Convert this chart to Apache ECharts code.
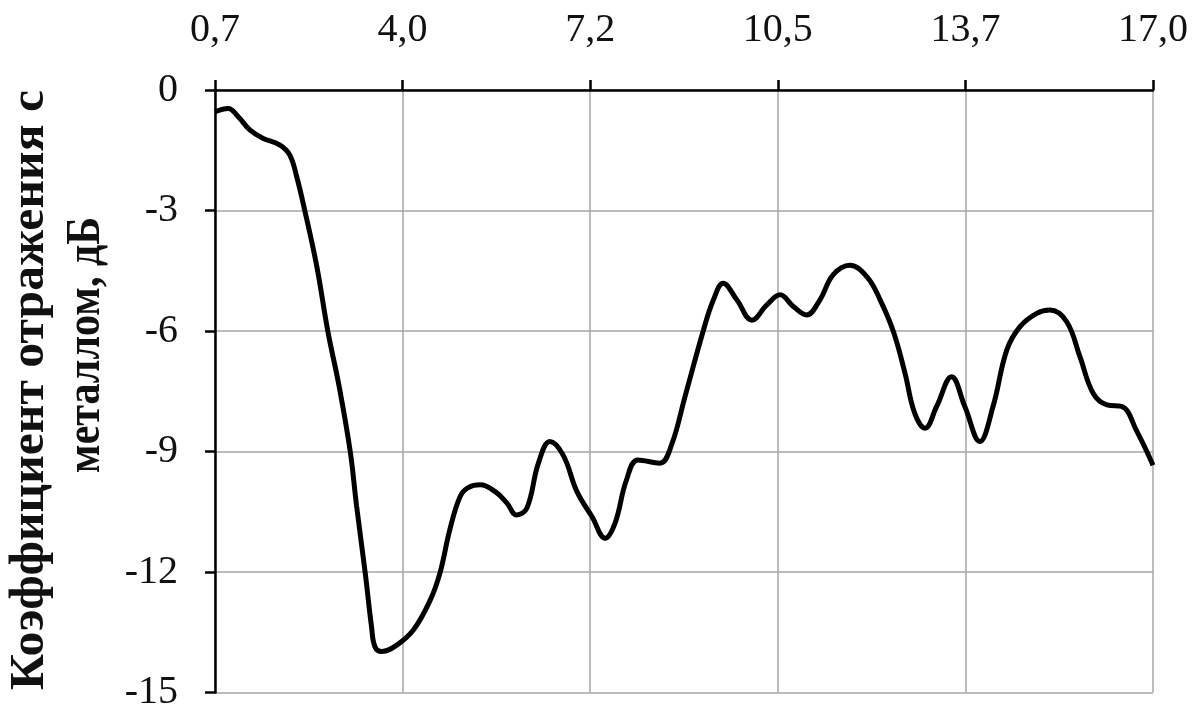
<!DOCTYPE html>
<html>
<head>
<meta charset="utf-8">
<script src="https://cdn.jsdelivr.net/npm/echarts@6/dist/echarts.min.js"></script>
<style>
  html, body { margin: 0; padding: 0; background: #fff; }
  #chart { width: 1196px; height: 711px; }
</style>
</head>
<body>
<div id="chart"></div>
<script>
// Frequency, GHz
const freq = [
  0.70, 0.93, 1.10, 1.31, 1.53, 1.83, 2.00, 2.12, 2.26, 2.47, 2.66, 2.86,
  3.05, 3.16, 3.31, 3.42, 3.48, 3.60, 3.86, 4.15, 4.44, 4.61, 4.78, 4.96,
  5.10, 5.31, 5.57, 5.77, 5.94, 6.12, 6.32, 6.52, 6.75, 6.99, 7.25, 7.48,
  7.65, 7.85, 8.05, 8.43, 8.63, 8.87, 9.19, 9.36, 9.53, 9.77, 10.03, 10.29,
  10.52, 10.75, 10.98, 11.21, 11.44, 11.73, 12.03, 12.26, 12.49, 12.69, 12.86, 13.04,
  13.24, 13.50, 13.73, 13.99, 14.22, 14.46, 14.69, 14.98, 15.21, 15.50, 15.73, 15.96,
  16.20, 16.46, 16.72, 17.00
];
// Reflection coefficient with metal backing, dB
const reflection = [
  -0.54, -0.46, -0.66, -1.00, -1.20, -1.37, -1.62, -2.16, -3.00, -4.40, -6.00, -7.40,
  -9.00, -10.35, -12.02, -13.36, -13.86, -13.98, -13.82, -13.44, -12.70, -12.02, -10.95, -10.12,
  -9.90, -9.83, -10.00, -10.28, -10.58, -10.41, -9.29, -8.75, -9.09, -10.00, -10.62, -11.16,
  -10.79, -9.71, -9.21, -9.29, -8.85, -7.62, -5.97, -5.23, -4.81, -5.23, -5.73, -5.35,
  -5.10, -5.39, -5.60, -5.23, -4.60, -4.36, -4.65, -5.23, -6.02, -7.05, -8.05, -8.42,
  -7.88, -7.14, -7.88, -8.75, -7.88, -6.47, -5.89, -5.56, -5.48, -5.77, -6.64, -7.55,
  -7.84, -7.88, -8.50, -9.34
];
// Frequency tick labels (five equal steps from 0.7 to 17.0 GHz)
const freqTicks = ['0,7', '4,0', '7,2', '10,5', '13,7', '17,0'];
const freqMin = 0.7;
const freqMax = 17.0;

// Vertical axis title, two lines
const yTitleLines = ['Коэффициент отражения с', 'металлом, дБ'];

const serif = '"Liberation Serif", "Times New Roman", serif';
const gridColor = '#a6a6a6';
const ink = '#111';

// Title layout: centre of each rotated line and the length it occupies
const titleFontSize = 44;
const titleFont = 'bold ' + titleFontSize + 'px ' + serif;
const titleBoxes = [
  { cx: 31, cy: 390, length: 600 },
  { cx: 87, cy: 345, length: 256 }
];

function textWidth(text, font) {
  const ctx = document.createElement('canvas').getContext('2d');
  ctx.font = font;
  return ctx.measureText(text).width;
}

const titleGraphics = yTitleLines.map((line, i) => {
  const box = titleBoxes[i];
  return {
    type: 'text',
    x: box.cx,
    y: box.cy,
    rotation: Math.PI / 2,
    scaleX: box.length / textWidth(line, titleFont),
    scaleY: 1.1,
    silent: true,
    style: {
      text: line,
      font: titleFont,
      fill: ink,
      align: 'center',
      verticalAlign: 'middle'
    }
  };
});

const chart = echarts.init(document.getElementById('chart'), null, { renderer: 'canvas' });

chart.setOption({
  backgroundColor: '#fff',
  animation: false,
  grid: {
    left: 215, right: 43, top: 90, bottom: 18.5,
    containLabel: false,
    outerBoundsMode: 'none'
  },
  graphic: titleGraphics,
  xAxis: [
    {
      // visible frequency scale: one step per tick label
      type: 'value',
      position: 'top',
      min: 0,
      max: freqTicks.length - 1,
      interval: 1,
      axisLine: { show: true, onZero: false, lineStyle: { color: '#000', width: 2.5 } },
      axisTick: { show: true, inside: false, length: 10, lineStyle: { color: '#000', width: 2.5 } },
      axisLabel: {
        margin: 40,
        color: ink,
        fontFamily: serif,
        fontSize: 40,
        formatter: v => freqTicks[Math.round(v)]
      },
      splitLine: { show: true, lineStyle: { color: gridColor, width: 1.5 } }
    },
    {
      // data scale in GHz
      type: 'value',
      position: 'top',
      min: freqMin,
      max: freqMax,
      show: false
    }
  ],
  yAxis: {
    type: 'value',
    min: -15,
    max: 0,
    interval: 3,
    axisLine: { show: true, onZero: false, lineStyle: { color: '#000', width: 2.5 } },
    axisTick: { show: true, inside: false, length: 10, lineStyle: { color: '#000', width: 2.5 } },
    axisLabel: {
      margin: 37,
      color: ink,
      fontFamily: serif,
      fontSize: 40
    },
    splitLine: { show: true, lineStyle: { color: gridColor, width: 1.5 } }
  },
  series: [
    {
      type: 'line',
      xAxisIndex: 1,
      data: freq.map((f, i) => [f, reflection[i]]),
      smooth: 0.4,
      showSymbol: false,
      lineStyle: { color: '#000', width: 5 },
      clip: false
    }
  ]
});
</script>
</body>
</html>
